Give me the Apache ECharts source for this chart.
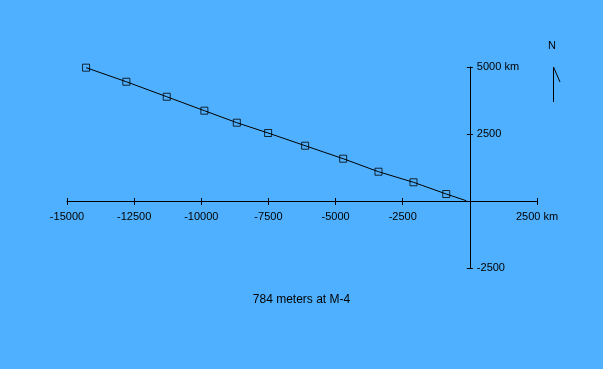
<!DOCTYPE html>
<html>
<head>
<meta charset="utf-8">
<script src="https://cdn.jsdelivr.net/npm/echarts@6/dist/echarts.min.js"></script>
<style>
html,body{margin:0;padding:0;background:#4fb0ff;}
#c{width:603px;height:369px;}
</style>
</head>
<body>
<div id="c"></div>
<script>
// Track points (km)
const trackX = [-14290, -12790, -11285, -9885, -8677, -7511, -6133, -4717, -3402, -2098, -879, -134];
const trackY = [4975, 4450, 3890, 3370, 2922, 2537, 2063, 1578, 1093, 698, 261, 11];
// Marker points (every point except the end of the track)
const markerCount = 11;
const xTicks = [-15000, -12500, -10000, -7500, -5000, -2500, 0, 2500];
const yTicks = [-2500, 0, 2500, 5000];
const titleText = '784 meters at M-4';

const lineData = trackX.map((x, i) => [x, trackY[i]]);
const markerData = lineData.slice(0, markerCount);

const font = 'Liberation Sans, Arial, sans-serif';
const xMin = xTicks[0], xMax = xTicks[xTicks.length - 1];
const yMin = yTicks[0], yMax = yTicks[yTicks.length - 1];
const fmtX = v => v === 0 ? '' : (v === xMax ? v + ' km' : String(v));
const fmtY = v => v === 0 ? '' : (v === yMax ? v + ' km' : String(v));

// plot area geometry
const W = 603, H = 369;
const L = 67, R = 66, T = 67, B = 101;
const plotW = W - L - R, plotH = H - T - B;
const zeroX = L + (0 - xMin) / (xMax - xMin) * plotW;
const zeroY = T + (yMax - 0) / (yMax - yMin) * plotH;

const black = { color: '#000', width: 1 };
function xAxisDef(gridIndex, position, tickLen, showLabel, showLine) {
  return {
    type: 'value', gridIndex, position, min: xMin, max: xMax, interval: 2500,
    splitLine: { show: false },
    axisLine: { show: showLine, onZero: false, lineStyle: black },
    axisTick: { show: tickLen > 0, length: tickLen, lineStyle: black },
    axisLabel: { show: showLabel, margin: 10, color: '#000', fontSize: 11, fontFamily: font, formatter: fmtX, showMinLabel: true, showMaxLabel: true }
  };
}
function yAxisDef(gridIndex, position, tickLen, showLabel, showLine) {
  return {
    type: 'value', gridIndex, position, min: yMin, max: yMax, interval: 2500,
    splitLine: { show: false },
    axisLine: { show: showLine, onZero: false, lineStyle: black },
    axisTick: { show: tickLen > 0, length: tickLen, lineStyle: black },
    axisLabel: { show: showLabel, inside: true, margin: 7, color: '#000', fontSize: 11, fontFamily: font, formatter: fmtY, showMinLabel: true, showMaxLabel: true }
  };
}

const chart = echarts.init(document.getElementById('c'), null, { renderer: 'canvas' });
chart.setOption({
  backgroundColor: '#4fb0ff',
  animation: false,
  grid: [
    // 0: data grid (axes hidden)
    { left: L, right: R, top: T, bottom: B, containLabel: false, outerBoundsMode: 'none' },
    // 1: x axis below zero line
    { left: L, right: R, top: T, bottom: H - zeroY, containLabel: false, outerBoundsMode: 'none' },
    // 2: x ticks above zero line
    { left: L, right: R, top: zeroY, bottom: B, containLabel: false, outerBoundsMode: 'none' },
    // 3: y axis right of zero line
    { left: zeroX, right: R, top: T, bottom: B, containLabel: false, outerBoundsMode: 'none' },
    // 4: y ticks left of zero line
    { left: L, right: W - zeroX, top: T, bottom: B, containLabel: false, outerBoundsMode: 'none' }
  ],
  xAxis: [
    xAxisDef(0, 'bottom', 0, false, false),
    xAxisDef(1, 'bottom', 4, true, true),
    xAxisDef(2, 'top', 3, false, false),
    xAxisDef(3, 'bottom', 0, false, false),
    xAxisDef(4, 'bottom', 0, false, false)
  ],
  yAxis: [
    yAxisDef(0, 'left', 0, false, false),
    yAxisDef(1, 'left', 0, false, false),
    yAxisDef(2, 'left', 0, false, false),
    yAxisDef(3, 'left', 3, true, true),
    yAxisDef(4, 'right', 3, false, false)
  ],
  series: [
    {
      type: 'line', xAxisIndex: 0, yAxisIndex: 0,
      data: lineData, showSymbol: false, symbol: 'none',
      lineStyle: { color: '#000', width: 1 }, silent: true
    },
    {
      type: 'scatter', xAxisIndex: 0, yAxisIndex: 0,
      data: markerData, symbol: 'rect', symbolSize: 7,
      itemStyle: { color: 'rgba(0,0,0,0)', borderColor: '#000', borderWidth: 1 }, silent: true
    }
  ],
  graphic: [
    { type: 'text', left: 548, top: 40, style: { text: 'N', fill: '#000', font: '11px ' + font } },
    { type: 'line', shape: { x1: 553.5, y1: 67, x2: 553.5, y2: 102 }, style: { stroke: '#000', lineWidth: 1 } },
    { type: 'line', shape: { x1: 553.5, y1: 67, x2: 560, y2: 82 }, style: { stroke: '#000', lineWidth: 1 } },
    { type: 'text', left: 'center', top: 294, style: { text: titleText, fill: '#000', font: '12px ' + font } }
  ]
});
</script>
</body>
</html>
